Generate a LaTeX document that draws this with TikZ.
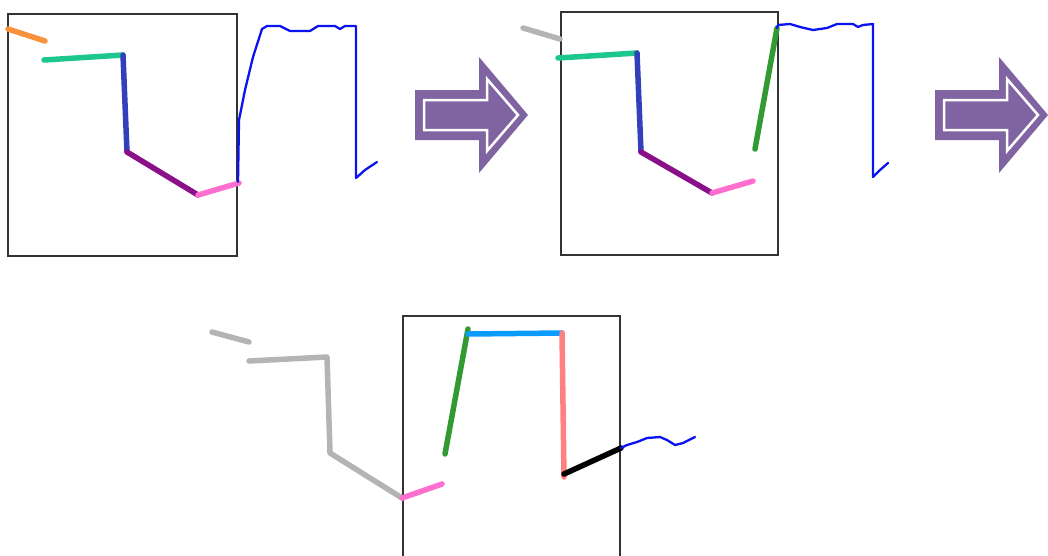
\documentclass[tikz,border=0pt]{standalone}
\usetikzlibrary{calc}
\definecolor{cOrange}{HTML}{F7923A}
\definecolor{cTeal}{HTML}{1CC78F}
\definecolor{cNavy}{HTML}{3340BB}
\definecolor{cPurple}{HTML}{8A1089}
\definecolor{cPink}{HTML}{FF6FCF}
\definecolor{cGray}{HTML}{B4B4B4}
\definecolor{cGreen}{HTML}{339933}
\definecolor{cSky}{HTML}{0A9BFF}
\definecolor{cSalmon}{HTML}{FF8080}
\definecolor{cWire}{HTML}{0A14F0}
\definecolor{cArrow}{HTML}{8064A2}
\tikzset{
  seg/.style={line width=5.5pt, line cap=round, line join=round},
  wire/.style={cWire, line width=2.3pt, line join=round, line cap=round},
  frame/.style={draw=black!80, line width=1.6pt},
  bigarrow/.pic={
    \fill[cArrow] (0,-25) -- (64,-25) -- (64,-58) -- (113,0) -- (64,58) -- (64,25) -- (0,25) -- cycle;
    \draw[white, line width=2.5pt, line join=miter] (9,-15) -- (72,-15) -- (72,-36) -- (103,0) -- (72,36) -- (72,15) -- (9,15) -- cycle;
  }
}
\begin{document}
\begin{tikzpicture}[x=1pt,y=-1pt]
\useasboundingbox (0,0) rectangle (1048,555);
\fill[white] (0,0) rectangle (1048,555);
\begin{scope}
\clip (0,0) rectangle (1048,555);
% ---------- panel 1 ----------
\draw[frame] (8,14) rectangle (237,256);
\draw[seg, cOrange] (8,29) -- (45,41);
\draw[seg, cTeal] (44,60) -- (123,55);
\draw[seg, cNavy] (123,55) -- (127,152);
\draw[seg, cPurple] (127,152) -- (198,195);
\draw[seg, cPink] (198,195) -- (239,183);
\draw[wire] (238,182) -- (239,120) -- (245,90) -- (253,57) -- (262,29) -- (267,26)
  -- (280,26) -- (290,31) -- (310,31) -- (318,26) -- (335,26) -- (340,29)
  -- (345,26) -- (356,26) -- (356,178) -- (365,170) -- (377,162);
% ---------- arrow 1 ----------
\pic at (415,115) {bigarrow};
% ---------- panel 2 ----------
\draw[frame] (561,12) rectangle (778,255);
\draw[seg, cGray] (523,28) -- (560,39);
\draw[seg, cTeal] (558,58) -- (637,53);
\draw[seg, cNavy] (637,53) -- (641,152);
\draw[seg, cPurple] (641,152) -- (712,193);
\draw[seg, cPink] (712,193) -- (753,181);
\draw[seg, cGreen] (755,149) -- (777,28);
\draw[wire] (777,28) -- (778,25) -- (790,24) -- (800,27) -- (813,30) -- (827,28)
  -- (837,24) -- (853,24) -- (858,27) -- (863,25) -- (873,24) -- (873,177)
  -- (880,170) -- (888,163);
% ---------- arrow 2 ----------
\pic at (935,115) {bigarrow};
% ---------- panel 3 ----------
\draw[frame] (403,316) rectangle (620,570);
\draw[seg, cGray] (212,332) -- (249,342);
\draw[seg, cGray] (249,361) -- (327,357) -- (330,453) -- (402,498);
\draw[seg, cPink] (402,498) -- (442,484);
\draw[seg, cGreen] (445,454) -- (468,329);
\draw[seg, cSky] (468,334) -- (562,333);
\draw[seg, cSalmon] (562,333) -- (564,477);
\draw[seg, black] (564,474) -- (621,448);
\draw[wire] (621,448) -- (627,445) -- (637,442) -- (647,438) -- (660,437)
  -- (667,440) -- (675,445) -- (683,443) -- (695,437);
\end{scope}
\end{tikzpicture}
\end{document}
